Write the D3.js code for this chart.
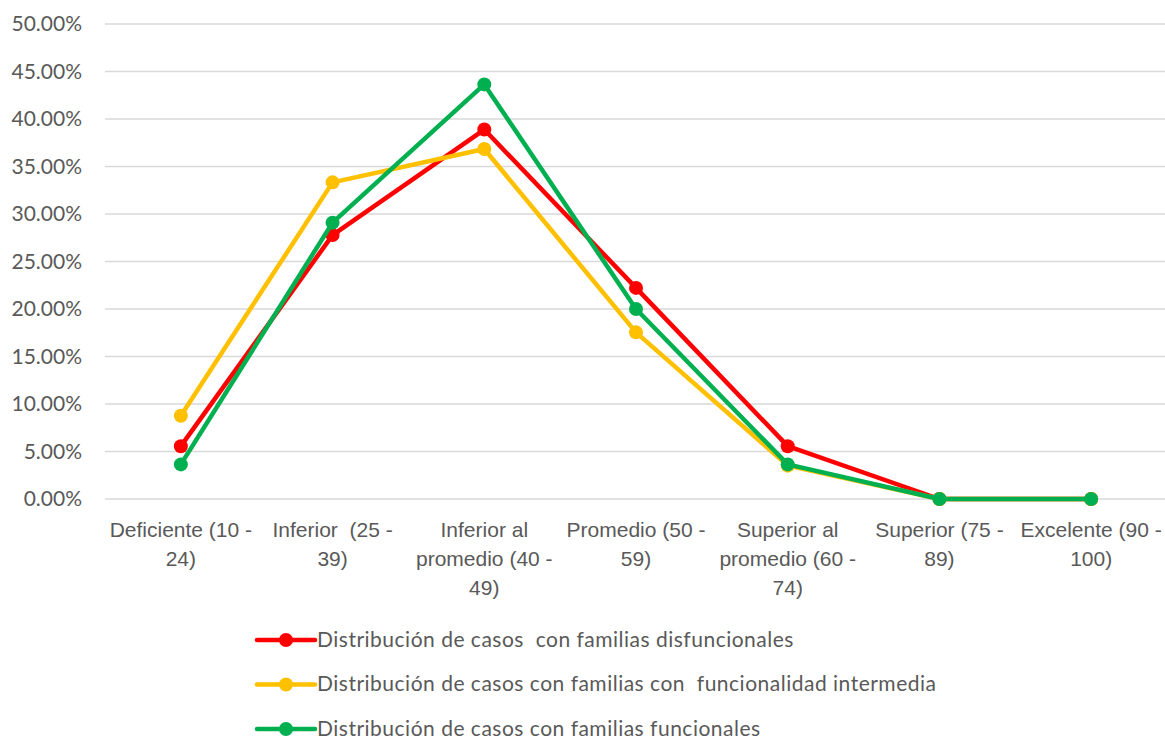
<!DOCTYPE html>
<html>
<head>
<meta charset="utf-8">
<script src="https://cdn.jsdelivr.net/npm/d3@7"></script>
<style>
  body { margin: 0; background: #fff; }
  svg { display: block; font-family: Lato, "Open Sans", sans-serif; }
  text { white-space: pre; }
</style>
</head>
<body>
<svg id="chart" width="1165" height="740"></svg>
<script>
// categories (wrapped like the original)
const categories = [
  ['Deficiente (10 -', '24)'],
  ['Inferior  (25 -', '39)'],
  ['Inferior al', 'promedio (40 -', '49)'],
  ['Promedio (50 -', '59)'],
  ['Superior al', 'promedio (60 -', '74)'],
  ['Superior (75 -', '89)'],
  ['Excelente (90 -', '100)'],
]

const disfuncionales = [5.56, 27.78, 38.89, 22.22, 5.56, 0, 0]
const intermedia = [8.77, 33.33, 36.84, 17.54, 3.51, 0, 0]
const funcionales = [3.64, 29.09, 43.64, 20.0, 3.64, 0, 0]

const seriesNames = [
  'Distribución de casos  con familias disfuncionales',
  'Distribución de casos con familias con  funcionalidad intermedia',
  'Distribución de casos con familias funcionales',
]
const seriesColors = ['#ff0000', '#ffc000', '#00b050']
const yTicks = [0, 5, 10, 15, 20, 25, 30, 35, 40, 45, 50]

const margin = { top: 24, right: -2, bottom: 241, left: 105 }
const width = 1165 - margin.left - margin.right
const height = 740 - margin.top - margin.bottom
const textColor = '#595959'
const fontSize = '21px'

const svg = d3.select('#chart')
const g = svg.append('g')
  .attr('transform', `translate(${margin.left},${margin.top})`)

const x = d3.scaleBand()
  .domain(d3.range(categories.length))
  .range([0, width])

const y = d3.scaleLinear()
  .domain([0, 50])
  .range([height, 0])

// gridlines
g.append('g')
  .selectAll('line')
  .data(yTicks)
  .join('line')
    .attr('x1', 0)
    .attr('x2', width)
    .attr('y1', (d) => y(d))
    .attr('y2', (d) => y(d))
    .attr('stroke', '#d9d9d9')
    .attr('stroke-width', 1.5)

// y axis labels
const yAxis = g.append('g')
  .call(d3.axisLeft(y).tickValues(yTicks).tickSize(0).tickPadding(23)
    .tickFormat((d) => d.toFixed(2) + '%'))
yAxis.select('.domain').remove()
yAxis.selectAll('text')
  .attr('fill', textColor)
  .style('font-family', 'Lato, sans-serif')
  .style('font-size', fontSize)

// x axis labels
const xAxis = g.append('g')
  .attr('transform', `translate(0,${height})`)
  .call(d3.axisBottom(x).tickSize(0).tickFormat(''))
xAxis.select('.domain').remove()
xAxis.selectAll('.tick').each(function (i) {
  const t = d3.select(this).append('text')
    .attr('fill', textColor)
    .attr('text-anchor', 'middle')
    .style('font-size', fontSize)
  categories[i].forEach((line, k) => {
    t.append('tspan')
      .attr('x', 0)
      .attr('y', 38 + k * 29)
      .text(line)
  })
})

const allSeries = [disfuncionales, intermedia, funcionales]
const cx = (i) => x(i) + x.bandwidth() / 2

const line = d3.line()
  .x((d, i) => cx(i))
  .y((d) => y(d))

allSeries.forEach((values, s) => {
  const sg = g.append('g')
  sg.append('path')
    .datum(values)
    .attr('d', line)
    .attr('fill', 'none')
    .attr('stroke', seriesColors[s])
    .attr('stroke-width', 4.5)
    .attr('stroke-linejoin', 'round')
  sg.selectAll('circle')
    .data(values)
    .join('circle')
      .attr('cx', (d, i) => cx(i))
      .attr('cy', (d) => y(d))
      .attr('r', 7)
      .attr('fill', seriesColors[s])
})

// legend
const legend = svg.append('g')
  .attr('transform', 'translate(257,640)')
seriesNames.forEach((name, s) => {
  const row = legend.append('g').attr('transform', `translate(0,${s * 44.5})`)
  row.append('line')
    .attr('x1', 0).attr('x2', 58)
    .attr('stroke', seriesColors[s])
    .attr('stroke-width', 4.5)
    .attr('stroke-linecap', 'round')
  row.append('circle')
    .attr('cx', 29).attr('r', 7)
    .attr('fill', seriesColors[s])
  row.append('text')
    .attr('x', 60)
    .attr('dy', '0.33em')
    .attr('fill', textColor)
    .style('font-size', fontSize)
    .style('letter-spacing', '0.5px')
    .text(name)
})
</script>
</body>
</html>
